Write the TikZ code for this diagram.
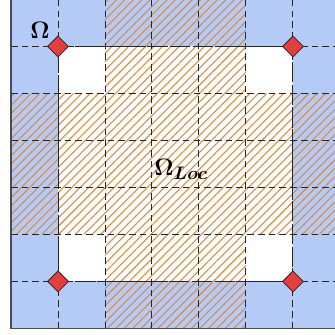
\documentclass[tikz,border=0pt]{standalone}
\usepackage{bm}
\usetikzlibrary{patterns.meta,shapes.geometric}
\definecolor{domblue}{RGB}{180,202,247}
\definecolor{hatchorange}{RGB}{222,138,62}
\definecolor{cornerred}{RGB}{228,62,62}

\begin{document}
\begin{tikzpicture}[
    gridline/.style={black!85,line width=0.6pt,dash pattern=on 4pt off 2.5pt},
    corner/.style={diamond,draw=black!85,fill=cornerred,inner sep=0pt,minimum size=0.45cm,line width=0.5pt}
  ]
  \useasboundingbox (-0.234,-0.138) rectangle (6.894,6.989);
  \clip (-0.234,-0.138) rectangle (6.894,6.989);
  % domain and local region
  \fill[domblue] (0,0) rectangle (7,7);
  \fill[white] (1,1) rectangle (6,6);
  \fill[pattern={Lines[angle=45,distance=3.6pt,line width=0.65pt]},pattern color=hatchorange]
    (2,0) rectangle (5,7) (0,2) rectangle (7,5);
  % grid
  \foreach \i in {1,...,6}
  {
    \draw[gridline] (\i,0) -- (\i,7);
    \draw[gridline] (0,\i) -- (7,\i);
  }
  \draw[black!85,line width=0.6pt,dash pattern=on 12pt off 2pt] (1,1) rectangle (6,6);
  \draw[black!70,line width=1pt] (0,0) rectangle (7,7);
  % corners
  \foreach \x/\y/\n in {1/6/a, 6/6/b, 1/1/c, 6/1/d}
  {
    \node[corner] (corner\n) at (\x,\y) {};
  }
  \node[font=\fontsize{15}{17}\selectfont] (omega) at (0.62,6.35) {$\bm{\Omega}$};
  \node[font=\fontsize{15}{17}\selectfont] (omegaloc) at (3.62,3.38) {$\bm{\Omega_{Loc}}$};
\end{tikzpicture}
\end{document}
